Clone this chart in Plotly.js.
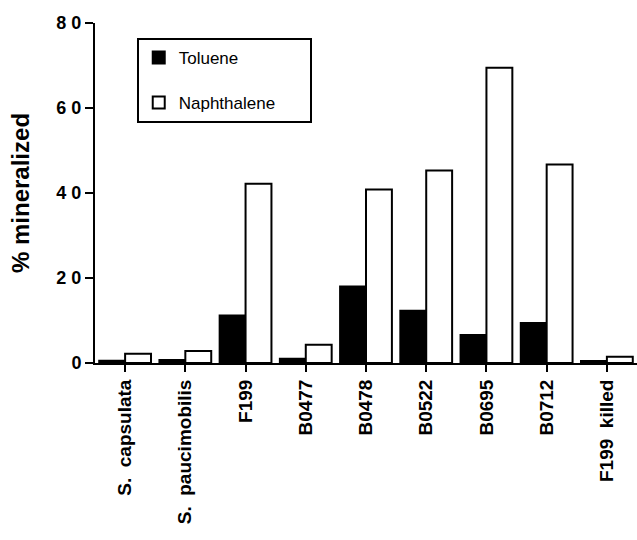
<!DOCTYPE html>
<html>
<head>
<meta charset="utf-8">
<script src="https://cdn.plot.ly/plotly-3.0.1.min.js"></script>
<style>html,body{margin:0;padding:0;background:#fff;}</style>
</head>
<body>
<div id="chart" style="width:637px;height:540px;"></div>
<script>
const categories = ["S.  capsulata", "S.  paucimobilis", "F199", "B0477", "B0478", "B0522", "B0695", "B0712", "F199  killed"];
const seriesNames = ["Toluene", "Naphthalene"];
const toluene = [0.55, 0.7, 11.2, 1.0, 18.0, 12.3, 6.6, 9.4, 0.5];
const naphthalene = [2.2, 2.8, 42.2, 4.3, 40.8, 45.3, 69.5, 46.7, 1.5];
const yTicks = [0, 20, 40, 60, 80];

const pad = "\u00a0\u00a0\u00a0\u00a0\u00a0\u00a0\u00a0\u00a0\u00a0\u00a0\u00a0\u00a0\u00a0\u00a0";
const traces = [
  {type: "bar", name: seriesNames[0] + pad, x: categories, y: toluene, legendgroup: "t",
   marker: {color: "#000", line: {color: "#000", width: 2}}},
  {type: "bar", name: seriesNames[1] + "\u00a0\u00a0\u00a0", x: categories, y: naphthalene, legendgroup: "n",
   marker: {color: "#fff", line: {color: "#000", width: 2}}}
];

const layout = {
  width: 637, height: 540,
  margin: {l: 95, r: 0, t: 23, b: 177},
  paper_bgcolor: "#fff", plot_bgcolor: "#fff",
  barmode: "group", bargap: 0.14, bargroupgap: 0,
  font: {family: "Liberation Sans, Arial, sans-serif", color: "#000"},
  showlegend: true,
  legend: {x: 0.077, y: 0.956, xanchor: "left", yanchor: "top",
    bordercolor: "#000", borderwidth: 2, bgcolor: "#fff",
    font: {size: 17, color: "#000"}, traceorder: "grouped", tracegroupgap: 20,
    itemwidth: 30},
  xaxis: {type: "category", range: [-0.5, 8.5], showline: true, linecolor: "#000", linewidth: 2,
    ticks: "outside", ticklen: 7, tickwidth: 2, tickcolor: "#000", tickangle: -90,
    tickfont: {size: 19, family: "Liberation Sans, Arial, sans-serif", weight: "bold"},
    showgrid: false, zeroline: false, fixedrange: true},
  yaxis: {range: [0, 80], tickvals: yTicks, ticktext: yTicks.map(v => String(v).split("").join(" ")),
    showline: true, linecolor: "#000", linewidth: 2,
    ticks: "outside", ticklen: 8, tickwidth: 2, tickcolor: "#000",
    tickfont: {size: 18, family: "Liberation Sans, Arial, sans-serif", weight: "bold"},
    showgrid: false, zeroline: false,
    title: {text: "% mineralized", standoff: 20,
      font: {size: 24, family: "Liberation Sans, Arial, sans-serif", weight: "bold"}}}
};

Plotly.newPlot("chart", traces, layout, {displayModeBar: false, staticPlot: true});
</script>
</body>
</html>
